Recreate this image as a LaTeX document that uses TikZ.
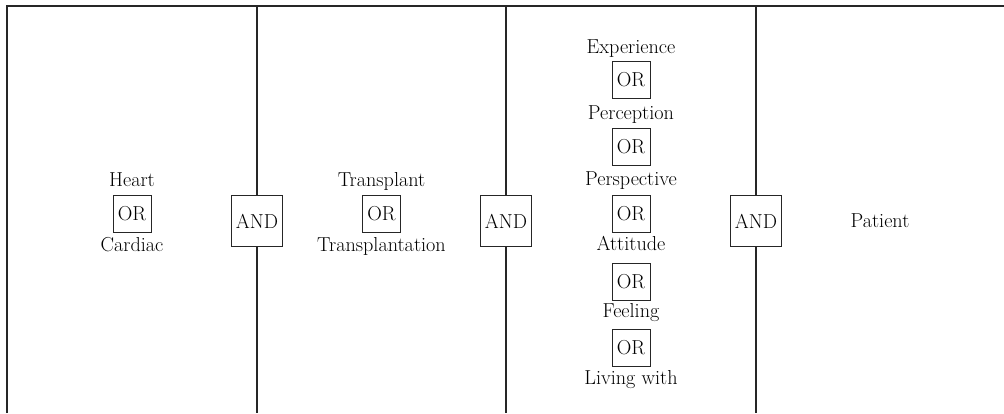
\documentclass[tikz,border=0pt]{standalone}
\begin{document}
\begin{tikzpicture}[x=1pt,y=-1pt,
  term/.style={anchor=base,inner sep=0pt,font=\fontsize{20.2}{24}\selectfont},
  orbox/.style={draw=black!85,line width=0.8pt,fill=white,minimum width=38pt,minimum height=37pt,inner sep=0pt,font=\fontsize{20.2}{24}\selectfont},
  andbox/.style={draw=black!85,line width=0.8pt,fill=white,minimum width=51pt,minimum height=51pt,inner sep=0pt,font=\fontsize{20.2}{24}\selectfont},
  rule/.style={draw=black!85,line width=1.1pt}]
\useasboundingbox (0,0) rectangle (1004,413);
% frame
\coordinate (tl) at (7,6);
\coordinate (tr) at (1004,6);
\coordinate (bl) at (7,413);
\coordinate (t1) at (257,6); \coordinate (b1) at (257,413);
\coordinate (t2) at (506,6); \coordinate (b2) at (506,413);
\coordinate (t3) at (756,6); \coordinate (b3) at (756,413);
\draw[rule] (bl) -- (tl) -- (tr);
\draw[rule] (t1) -- (b1);
\draw[rule] (t2) -- (b2);
\draw[rule] (t3) -- (b3);
% column 1
\node[term] (heart) at (132,186) {Heart};
\node[orbox] (or1) at (132,213.5) {OR};
\node[term] (cardiac) at (132,251) {Cardiac};
% column 2
\node[term] (transplant) at (381.5,186) {Transplant};
\node[orbox] (or2) at (381.5,213.5) {OR};
\node[term] (transplantation) at (381.5,251) {Transplantation};
% column 3
\node[term] (experience) at (631,53) {Experience};
\node[orbox] (or3a) at (631,80) {OR};
\node[term] (perception) at (631,119) {Perception};
\node[orbox] (or3b) at (631,146.5) {OR};
\node[term] (perspective) at (631,185) {Perspective};
\node[orbox] (or3c) at (631,214) {OR};
\node[term] (attitude) at (631,250) {Attitude};
\node[orbox] (or3d) at (631,281.5) {OR};
\node[term] (feeling) at (631,317) {Feeling};
\node[orbox] (or3e) at (631,347.5) {OR};
\node[term] (living) at (631,384) {Living with};
% column 4
\node[term] (patient) at (880,227) {Patient};
% AND boxes
\node[andbox] (and1) at (257,221) {AND};
\node[andbox] (and2) at (506,221) {AND};
\node[andbox] (and3) at (756,221) {AND};
\end{tikzpicture}
\end{document}
